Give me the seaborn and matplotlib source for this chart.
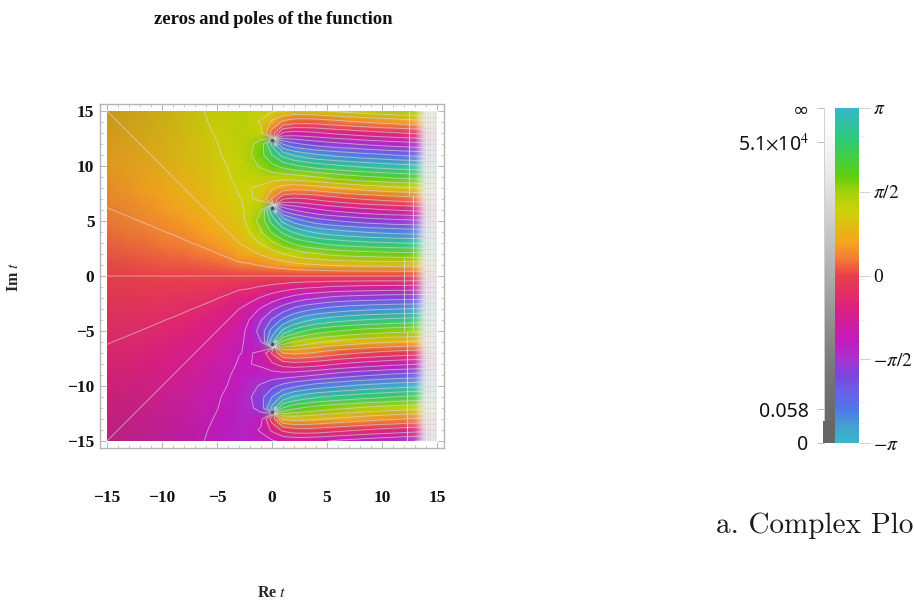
"""Phase plot of a complex function, with magnitude and phase colour bars."""

import numpy as np
import matplotlib
matplotlib.use("Agg")
import matplotlib.pyplot as plt
from matplotlib.colors import LinearSegmentedColormap
from matplotlib.patches import Rectangle
import seaborn as sns

sns.set_theme(style="white")
plt.rcParams["font.family"] = ["Liberation Serif", "DejaVu Sans"]
plt.rcParams["mathtext.fontset"] = "stix"

# Phase in degrees; rows y = 15..-15, columns x = -15..15.
phase_deg = [
    [45,47,49,51,54,56,59,62,65,68,72,75,79,77,75,70,64,62,62,64,67,71,74,77,80,83,85,88,90,92,94],
    [43,45,47,49,52,54,57,60,63,67,70,74,78,74,65,41,17,8,7,8,12,15,19,22,25,28,30,33,35,37,39],
    [41,43,45,47,50,52,55,58,62,65,69,73,77,78,73,12,-48,-53,-51,-48,-44,-40,-37,-33,-30,-27,-25,-22,-20,-18,-16],
    [39,41,43,45,47,50,53,56,60,63,67,72,76,85,101,164,-134,-118,-110,-104,-99,-95,-92,-88,-85,-82,-79,-77,-75,-73,-71],
    [36,38,40,42,45,48,51,54,58,61,66,70,75,88,105,135,165,-177,-168,-160,-156,-151,-148,-144,-141,-138,-135,-132,-130,-128,-126],
    [34,36,38,40,42,45,48,51,55,59,63,68,73,83,93,106,120,130,138,145,150,154,158,162,165,168,171,173,175,177,179],
    [31,33,35,37,39,42,45,48,52,56,61,66,72,74,77,78,78,81,85,90,95,100,104,108,111,114,117,119,121,123,125],
    [28,30,32,34,36,39,42,45,49,53,58,63,69,68,64,49,35,30,32,35,40,45,49,53,56,59,62,64,66,68,70],
    [25,27,28,30,32,35,38,41,45,49,54,60,67,69,63,20,-22,-27,-24,-19,-13,-8,-4,0,3,6,9,11,13,14,16],
    [21.8,23.2,24.8,26.6,29,31,34,37,41,45,50,56,63,74,90,172,-106,-90,-80,-72,-66,-61,-57,-53,-50,-47,-45,-43,-41,-39,-38],
    [18.4,19.7,21,22.6,24.4,26.6,29,32,36,40,45,51,59,75,100,143,-174,-149,-135,-124,-118,-113,-109,-105,-102,-100,-97,-96,-94,-93,-91],
    [15,16,17,18,20,21.8,24,26.6,30,34,39,45,53,69,89,115,140,160,174,-176,-170,-165,-161,-158,-155,-153,-151,-149,-148,-147,-146],
    [11,12,13,14,15,17,18,20.6,23.2,27,31,37,45,55,70,86,102,117,127,135,141,145,149,151,154,155,157,158,159,160,161],
    [8,8,9,9,10,11,13,14,16,18,21.8,26.6,34,38,47,57,67,76,84,88,93,97,99,101,102,104,105,106,106,107,107],
    [4,4,4,5,5,6,6,7,8,9,11,14,18,20,24,29,33,38,41,43,46,48,49,50,51,51,52,52,53,53,53],
    [0,0,0,0,0,0,0,0,0,0,0,0,0,0,0,0,0,0,0,0,0,0,0,0,0,0,0,0,0,0,0],
    [-4,-4,-4,-5,-5,-6,-6,-7,-8,-9,-11,-14,-18,-20,-24,-29,-33,-38,-41,-43,-46,-48,-49,-50,-51,-51,-52,-52,-53,-53,-53],
    [-8,-8,-9,-9,-10,-11,-13,-14,-16,-18,-21.8,-26.6,-34,-38,-47,-57,-67,-76,-84,-88,-93,-97,-99,-101,-102,-104,-105,-106,-106,-107,-107],
    [-11,-12,-13,-14,-15,-17,-18,-20.6,-23.2,-27,-31,-37,-45,-55,-70,-86,-102,-117,-127,-135,-141,-145,-149,-151,-154,-155,-157,-158,-159,-160,-161],
    [-15,-16,-17,-18,-20,-21.8,-24,-26.6,-30,-34,-39,-45,-53,-69,-89,-115,-140,-160,-174,176,170,165,161,158,155,153,151,149,148,147,146],
    [-18.4,-19.7,-21,-22.6,-24.4,-26.6,-29,-32,-36,-40,-45,-51,-59,-75,-100,-143,174,149,135,124,118,113,109,105,102,100,97,96,94,93,91],
    [-21.8,-23.2,-24.8,-26.6,-29,-31,-34,-37,-41,-45,-50,-56,-63,-74,-90,-172,106,90,80,72,66,61,57,53,50,47,45,43,41,39,38],
    [-25,-27,-28,-30,-32,-35,-38,-41,-45,-49,-54,-60,-67,-69,-63,-20,22,27,24,19,13,8,4,0,-3,-6,-9,-11,-13,-14,-16],
    [-28,-30,-32,-34,-36,-39,-42,-45,-49,-53,-58,-63,-69,-68,-64,-49,-35,-30,-32,-35,-40,-45,-49,-53,-56,-59,-62,-64,-66,-68,-70],
    [-31,-33,-35,-37,-39,-42,-45,-48,-52,-56,-61,-66,-72,-74,-77,-78,-78,-81,-85,-90,-95,-100,-104,-108,-111,-114,-117,-119,-121,-123,-125],
    [-34,-36,-38,-40,-42,-45,-48,-51,-55,-59,-63,-68,-73,-83,-93,-106,-120,-130,-138,-145,-150,-154,-158,-162,-165,-168,-171,-173,-175,-177,-179],
    [-36,-38,-40,-42,-45,-48,-51,-54,-58,-61,-66,-70,-75,-88,-105,-135,-165,177,168,160,156,151,148,144,141,138,135,132,130,128,126],
    [-39,-41,-43,-45,-47,-50,-53,-56,-60,-63,-67,-72,-76,-85,-101,-164,134,118,110,104,99,95,92,88,85,82,79,77,75,73,71],
    [-41,-43,-45,-47,-50,-52,-55,-58,-62,-65,-69,-73,-77,-78,-73,-12,48,53,51,48,44,40,37,33,30,27,25,22,20,18,16],
    [-43,-45,-47,-49,-52,-54,-57,-60,-63,-67,-70,-74,-78,-74,-65,-41,-17,-8,-7,-8,-12,-15,-19,-22,-25,-28,-30,-33,-35,-37,-39],
    [-45,-47,-49,-51,-54,-56,-59,-62,-65,-68,-72,-75,-79,-77,-75,-70,-64,-62,-62,-64,-67,-71,-74,-77,-80,-83,-85,-88,-90,-92,-94],
]
x_values = list(range(-15, 16))
y_values = list(range(15, -16, -1))

# white fade towards the large-magnitude side, one value per column
fade_alpha = [0]*27 + [0.02, 0.14, 0.88, 0.95]

# darkening towards the small-magnitude corners; rows y = 15,7.5,0,-7.5,-15, columns x = -15..15 by 5
dark_alpha = [
    [0.20, 0.13, 0.05, 0, 0, 0, 0],
    [0.08, 0.03, 0, 0, 0, 0, 0],
    [0.05, 0, 0, 0, 0, 0, 0],
    [0.08, 0.03, 0, 0, 0, 0, 0],
    [0.20, 0.13, 0.05, 0, 0, 0, 0],
]

zeros_x = [0, 0, 0, 0]
zeros_y = [12.4, 6.2, -6.2, -12.4]
blobs_x = [0.3, 0.3, 0.3, 0.3]
blobs_y = [12.0, 5.9, -5.9, -12.0]

# magnitude lines near the right edge
seg_x = [12.5, 12.8, 12.0, 12.3]
seg_y0 = [7.4, -5.0, -5.0, -15.0]
seg_y1 = [15.0, 7.4, 1.6, -5.0]
mesh_x = [13.6, 13.9, 14.15, 14.4, 14.6, 14.8]
mesh_y = [14.5, 14, 13.5, 13, 12.5, 12, 11.5, 11, 10.5, 10, 9.5, 9, 8.5, 8, 7.5, 7, 6.5, 6, 5.5,
          5, 4.5, 4, 3.5, 3, 2.5, 2, 1.5, 1, 0.5, 0, -0.5, -1, -1.5, -2, -2.5, -3, -3.5, -4, -4.5,
          -5, -5.5, -6, -6.5, -7, -7.5, -8, -8.5, -9, -9.5, -10, -10.5, -11, -11.5, -12, -12.5,
          -13, -13.5, -14, -14.5]

# colour bar: phase stop (degrees) -> colour
phase_stops = [-180, -163, -145, -126, -108, -92, -72, -36, 0, 18, 36, 70, 90, 108, 144, 180]
phase_colors = ["#35b8c8", "#45a0d0", "#4f78e8", "#6a60e8", "#7a45e0", "#a535d0", "#c01bc0", "#dd1f80",
                "#e8404a", "#f27c36", "#f5a61e", "#ccd208", "#a8d00a", "#5dcf10", "#2ecb70", "#35b8c8"]

# colour bar: grey level along the magnitude bar, top to bottom
mag_pos = [0, 0.06, 0.2, 0.34, 0.5, 0.6, 0.7, 0.8, 0.9, 1]
mag_grey = [1.0, 0.98, 0.91, 0.8, 0.68, 0.6, 0.52, 0.46, 0.42, 0.4]

phase_ticks = [180, 90, 0, -90, -180]
phase_tick_labels = [r"$\pi$", r"$\pi/2$", "0", r"$-\pi/2$", r"$-\pi$"]
mag_tick_pos = [0, 0.101, 0.899, 1]
mag_tick_labels = ["∞", r"5.1$\times$10$^{4}$", "0.058", "0"]
axis_ticks = [-15, -10, -5, 0, 5, 10, 15]

W, H = 914, 603
GREY = "#b4b4b4"


def box(l, t, r, b):
    return [l / W, 1 - b / H, (r - l) / W, (b - t) / H]


stops = [(s + 180) / 360 for s in phase_stops]
phase_cmap = LinearSegmentedColormap.from_list("phase", list(zip(stops, phase_colors)))
white_cmap = LinearSegmentedColormap.from_list("fade", [(1, 1, 1, 0), (0.96, 0.96, 0.96, 1)])
black_cmap = LinearSegmentedColormap.from_list("dark", [(0.25, 0.2, 0.2, 0), (0.25, 0.2, 0.2, 1)])

fig = plt.figure(figsize=(W / 100, H / 100), dpi=100)
ax = fig.add_axes(box(100, 104, 444, 448))

phase = np.array(phase_deg, dtype=float)
sns.heatmap(phase, ax=ax, cmap=phase_cmap, vmin=-180, vmax=180, cbar=False, square=False,
            xticklabels=False, yticklabels=False)
area = Rectangle((0.5, 0.5), 30, 30, transform=ax.transData)
ax.collections[0].set_clip_path(area)

smooth = dict(interpolation="bilinear", interpolation_stage="rgba", aspect="auto", zorder=2)
im = ax.imshow(phase, cmap=phase_cmap, vmin=-180, vmax=180, extent=(0, 31, 31, 0), **smooth)
im.set_clip_path(area)
im = ax.imshow(dark_alpha, cmap=black_cmap, vmin=0, vmax=1, extent=(-2, 33, 34.25, -3.25), **smooth)
im.set_clip_path(area)

# phase contours, eight levels and their opposites
cx = np.array(x_values) + 15.5
cy = 15.5 - np.array(y_values)
for k in range(8):
    field = np.sin(np.radians(phase) - k * np.pi / 8)
    cs = ax.contour(cx, cy, field, levels=[0], colors="#dcdcdc", linewidths=0.7, alpha=0.6, zorder=3)
    cs.set_clip_path(area)

ax.scatter(np.array(zeros_x) + 15.5, 15.5 - np.array(zeros_y), s=7, color="#303030", alpha=0.7,
           linewidths=0, zorder=4)
ax.scatter(np.array(blobs_x) + 15.5, 15.5 - np.array(blobs_y), s=9, color="#c8c8c8", alpha=0.8,
           linewidths=0, zorder=4)

im = ax.imshow(np.array([fade_alpha]), cmap=white_cmap, vmin=0, vmax=1, extent=(0, 31, 31, 0),
               interpolation="bilinear", interpolation_stage="rgba", aspect="auto", zorder=5)
im.set_clip_path(area)

ax.vlines(np.array(seg_x) + 15.5, 15.5 - np.array(seg_y1), 15.5 - np.array(seg_y0), color="#d8d8d8",
          lw=0.8, alpha=0.8, zorder=6)
ax.vlines(np.array(mesh_x) + 15.5, 0.5, 30.5, color="#cfcfcf", lw=0.5, alpha=0.8, zorder=6)
ax.hlines(15.5 - np.array(mesh_y), 13.7 + 15.5, 30.5, color="#cfcfcf", lw=0.5, alpha=0.7, zorder=6)

ax.set_xlim(-0.14, 31.14)
ax.set_ylim(31.14, -0.14)
ax.set_xticks([t + 15.5 for t in axis_ticks])
ax.set_xticklabels([str(t).replace("-", "−") for t in axis_ticks], fontsize=12.5, fontweight="bold")
ax.set_yticks([15.5 - t for t in axis_ticks])
ax.set_yticklabels([str(t).replace("-", "−") for t in axis_ticks], fontsize=12.5, fontweight="bold")
ax.set_xticks([t + 15.5 for t in range(-15, 16)], minor=True)
ax.set_yticks([15.5 - t for t in range(-15, 16)], minor=True)
ax.tick_params(axis="both", which="major", direction="in", length=4.5, width=0.7, color=GREY,
               top=True, right=True, bottom=True, left=True, labelcolor="#111111", labelrotation=0)
ax.tick_params(axis="both", which="minor", direction="in", length=2.5, width=0.5, color=GREY,
               top=True, right=True, bottom=True, left=True)
ax.tick_params(axis="x", which="major", pad=30)
ax.tick_params(axis="y", which="major", pad=4)
for side in ax.spines.values():
    side.set_visible(True)
    side.set_color(GREY)
    side.set_linewidth(1.0)

fig.text(273 / W, 1 - 19 / H, "zeros\u2009and\u2009poles\u2009of\u2009the\u2009function", ha="center", va="center",
         fontsize=13.5, fontweight="bold", color="#111111")
fig.text(272 / W, 1 - 593 / H, r"Re $\mathit{t}$", ha="center", va="center", fontsize=11.5, fontweight="bold")
fig.text(14 / W, 1 - 277 / H, r"Im $\mathit{t}$", ha="center", va="center", rotation=90, fontsize=11.5,
         fontweight="bold")

# phase colour bar
rows = 335
cb = fig.add_axes(box(835, 108, 859, 443))
sns.heatmap(np.linspace(180, -180, rows)[:, None], ax=cb, cmap=phase_cmap, vmin=-180, vmax=180, cbar=False,
            xticklabels=False, yticklabels=False)
cb.yaxis.tick_right()
cb.set_yticks([(180 - v) / 360 * rows for v in phase_ticks])
cb.set_yticklabels(phase_tick_labels, rotation=0, fontsize=14, color="#111111")
cb.set_yticks([(180 - v) / 360 * rows for v in range(-180, 181, 22)], minor=True)
cb.tick_params(axis="y", which="major", length=8, width=0.7, color="#d0d0d0", pad=2, right=True, left=False)
cb.tick_params(axis="y", which="minor", length=4, width=0.5, color="#ececec", right=True, left=False)

# magnitude colour bar
mb = fig.add_axes(box(824, 108, 835, 443))
grey = np.interp(np.linspace(0, 1, rows), mag_pos, mag_grey)
sns.heatmap(grey[:, None], ax=mb, cmap="gray", vmin=0, vmax=1, cbar=False, xticklabels=False, yticklabels=False)
mb.add_patch(Rectangle((-0.05, rows * 0.934), 1.05, rows * 0.066, color="#666666", clip_on=False, lw=0, zorder=5))
mb.set_yticks([p * rows for p in mag_tick_pos])
mb.set_yticklabels(mag_tick_labels, rotation=0, fontsize=14, color="#111111",
                   family=["Noto Sans", "DejaVu Sans"])
mb.tick_params(axis="y", which="major", length=5, width=0.7, color="#c0c0c0", pad=6, left=True)
mb.spines["left"].set_visible(True)
mb.spines["left"].set_color("#d0d0d0")
mb.spines["left"].set_linewidth(0.7)

fig.text(716 / W, 1 - 526 / H, "a. Complex Plo", ha="left", va="center", fontsize=21,
         family="cmr10", color="#1a1a1a")

fig.savefig("out.png", dpi=100)
